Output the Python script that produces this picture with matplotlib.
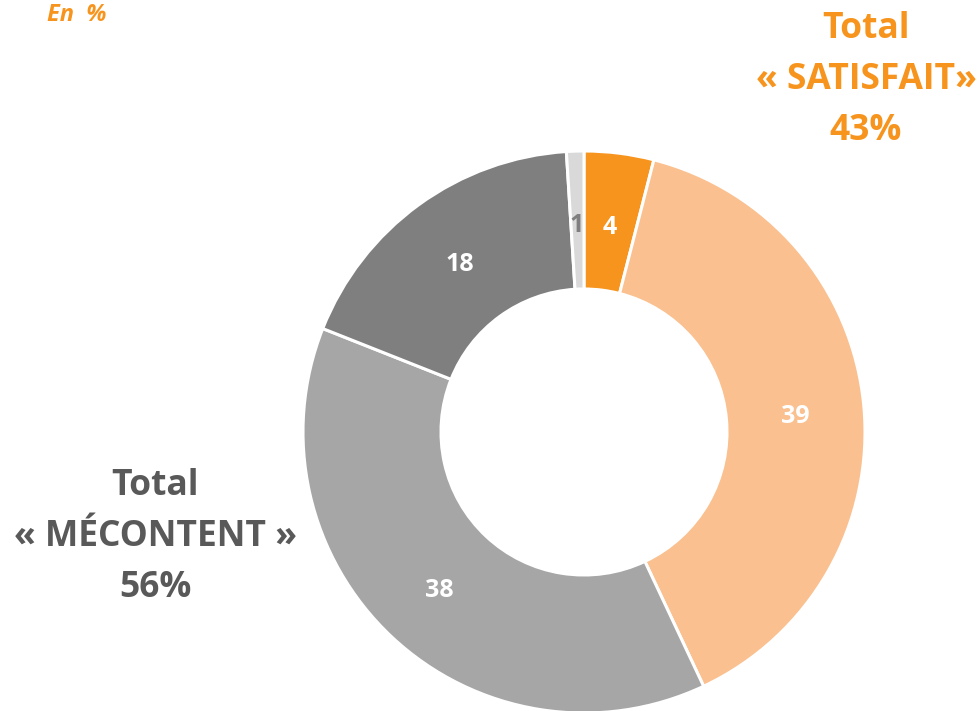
import matplotlib
matplotlib.use("Agg")
import matplotlib.pyplot as plt
import numpy as np

# survey shares, in %, clockwise from the top
labels = ["Très satisfait", "Plutôt satisfait", "Plutôt mécontent", "Très mécontent", "NSP"]
values = [4, 39, 38, 18, 1]
colors = ["#F7941D", "#FAC08F", "#A6A6A6", "#7F7F7F", "#D9D9D9"]
label_colors = ["white", "white", "white", "white", "#7F7F7F"]

total_satisfait = 43
total_mecontent = 56

orange = "#F7941D"
grey_txt = "#595959"
font = ["Open Sans", "DejaVu Sans"]

W, H = 980, 711
fig = plt.figure(figsize=(W / 100, H / 100), dpi=100)
ax = fig.add_axes([0, 0, 1, 1])

cx, cy, r = 584, H - 432, 281
wedges, _ = ax.pie(values, colors=colors, startangle=90, counterclock=False,
                   center=(cx, cy), radius=r, frame=True,
                   wedgeprops=dict(width=r - 143, edgecolor="white", linewidth=2.2))
ax.set_xlim(0, W)
ax.set_ylim(0, H)
ax.set_aspect("equal")
ax.axis("off")

# value labels placed along the ring
for v, lc, w in zip(values, label_colors, wedges):
    mid = np.deg2rad((w.theta1 + w.theta2) / 2)
    x = cx + 212 * np.cos(mid)
    y = cy + 212 * np.sin(mid) - 4
    if v == 4:
        x, y = 610, H - 227
    if v == 1:
        x, y = 577, H - 225
    ax.text(x, y, str(v), ha="center", va="center", color=lc,
            fontsize=18, fontweight="bold", family=font, zorder=5)

ax.text(47, H - 15, "En  %", ha="left", va="center", color=orange,
        fontsize=17, fontweight="bold", style="italic", family=font)

ax.text(866, H - 80, "Total\n« SATISFAIT»\n%d%%" % total_satisfait,
        ha="center", va="center", color=orange, fontsize=25.5,
        fontweight="bold", family=font, linespacing=1.55)
ax.text(155, H - 537, "Total\n« MÉCONTENT »\n%d%%" % total_mecontent,
        ha="center", va="center", color=grey_txt, fontsize=25.5,
        fontweight="bold", family=font, linespacing=1.55)

fig.savefig("out.png", dpi=100)
